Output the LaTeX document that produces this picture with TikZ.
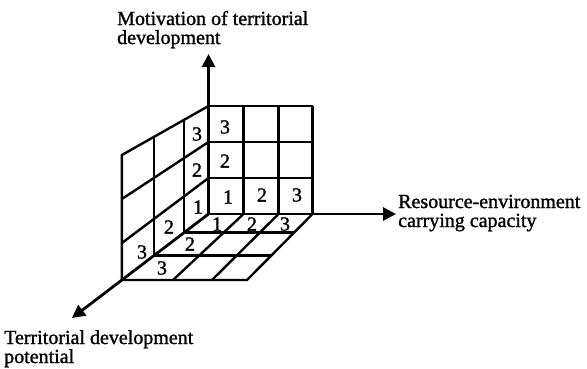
\documentclass[tikz,border=0pt]{standalone}
\usepackage{fontspec}
\setmainfont{Liberation Serif}[FakeBold=1.3]
\usetikzlibrary{arrows.meta,calc}
\begin{document}
\begin{tikzpicture}[x=1bp,y=-1bp,
  gridline/.style={line width=2.4bp},
  axis/.style={line width=2.8bp,-{Triangle[length=13bp,width=13bp]}},
  num/.style={inner sep=0pt,font=\fontsize{20bp}{19bp}\selectfont},
  axlabel/.style={inner sep=0pt,align=left,anchor=base west,font=\fontsize{20bp}{19bp}\selectfont}
]
\useasboundingbox (0,0) rectangle (587,368);
% key points
\coordinate (O) at (208.5,214);
\coordinate (Ztip) at (208.5,54);
\coordinate (Xtip) at (396,214);
\coordinate (Ytip) at (72,318);
\coordinate (T0) at (208.5,106);
\coordinate (T3) at (121.9,155);
\coordinate (B1) at (243.5,214);
\coordinate (B2) at (278.5,214);
\coordinate (B3) at (312.5,214);
\coordinate (F0) at (121.9,280);
\coordinate (F1) at (173,280);
\coordinate (F2) at (212,280);
\coordinate (F3) at (247,280);
% back wall
\foreach \x in {243.5,278.5,312.5} \draw[gridline] (\x,106) -- (\x,214);
\foreach \y in {106,142,178} \draw[gridline] (208.5,\y) -- (312.5,\y);
% floor
\draw[gridline] (B3) -- (F3) -- (F0);
\draw[gridline] (B1) -- (F1);
\draw[gridline] (B2) -- (F2);
\draw[gridline] ($(O)!0.28!(F0)$) -- ($(B3)!0.28!(F3)$);
\draw[gridline] ($(O)!0.629!(F0)$) -- ($(B3)!0.629!(F3)$);
% left wall
\draw[gridline] (T0) -- (T3) -- (F0);
\draw[gridline] ($(T0)!0.28!(T3)$) -- ($(O)!0.28!(F0)$);
\draw[gridline] ($(T0)!0.629!(T3)$) -- ($(O)!0.629!(F0)$);
\draw[gridline] (208.5,142) -- (121.9,199);
\draw[gridline] (208.5,178) -- (121.9,243);
% axes
\draw[axis] (O) -- (Ztip);
\draw[axis] (O) -- (Xtip);
\draw[axis] (O) -- (Ytip);
% numbers: back wall
\node[num] (b13) at (225,127) {3};
\node[num] (b12) at (225,161) {2};
\node[num] (b11) at (228,197) {1};
\node[num] (b21) at (262,195) {2};
\node[num] (b31) at (297,195) {3};
% numbers: left wall
\node[num] (l13) at (197,134) {3};
\node[num] (l12) at (197,170) {2};
\node[num] (l11) at (198,207) {1};
\node[num] (l21) at (169,227) {2};
\node[num] (l31) at (142,252) {3};
% numbers: floor
\node[num] (f11) at (217,224) {1};
\node[num] (f21) at (252,224) {2};
\node[num] (f31) at (285,224) {3};
\node[num] (f12) at (190,244) {2};
\node[num] (f13) at (162,268) {3};
% axis labels (base anchor is the last line)
\node[axlabel] (lz) at (117,44) {Motivation of territorial\\development};
\node[axlabel] (lx) at (398,227) {Resource-environment\\carrying capacity};
\node[axlabel] (ly) at (4,363) {Territorial development\\potential};
\end{tikzpicture}
\end{document}
